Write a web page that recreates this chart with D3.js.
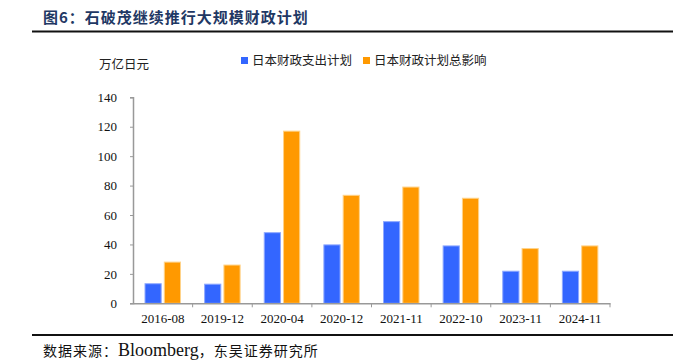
<!DOCTYPE html>
<html>
<head>
<meta charset="utf-8">
<script src="https://cdn.jsdelivr.net/npm/d3@7"></script>
<style>
  body { margin: 0; background: #fff; }
  svg { display: block; }
</style>
</head>
<body>
<div id="chart"></div>
<script>
// data
var categories = ["2016-08", "2019-12", "2020-04", "2020-12", "2021-11", "2022-10", "2023-11", "2024-11"];
var seriesNames = ["日本财政支出计划", "日本财政计划总影响"];
var spending = [13.3, 13, 48, 39.7, 55.5, 39, 21.8, 21.8];
var totalImpact = [28, 26, 117, 73.4, 79, 71.4, 37.2, 39];
var yTicks = [0, 20, 40, 60, 80, 100, 120, 140];

var width = 691, height = 364;
var cjk = "'Noto Sans CJK SC', sans-serif";
var serif = "'Liberation Serif', 'Times New Roman', serif";
var colors = ["#3366ff", "#ff9900"];
var strokes = ["#8fa9ff", "#ffd38a"];

var svg = d3.select("#chart").append("svg")
    .attr("width", width)
    .attr("height", height);

// title and rules
svg.append("text")
    .attr("x", 43)
    .attr("y", 23)
    .attr("font-family", cjk)
    .attr("font-size", 15)
    .attr("letter-spacing", 1)
    .attr("font-weight", "bold")
    .attr("fill", "#1f3864")
    .text("图6：石破茂继续推行大规模财政计划");

svg.append("line")
    .attr("x1", 32).attr("x2", 673)
    .attr("y1", 31.5).attr("y2", 31.5)
    .attr("stroke", "#111").attr("stroke-width", 2);

svg.append("line")
    .attr("x1", 32).attr("x2", 673)
    .attr("y1", 335).attr("y2", 335)
    .attr("stroke", "#111").attr("stroke-width", 2);

var src = svg.append("text")
    .attr("x", 43)
    .attr("y", 356)
    .attr("font-family", cjk)
    .attr("font-size", 14)
    .attr("letter-spacing", 1)
    .attr("fill", "#111");
src.append("tspan").text("数据来源：");
src.append("tspan")
    .attr("font-family", serif)
    .attr("font-size", 18)
    .attr("letter-spacing", 0)
    .text("Bloomberg");
src.append("tspan").text("，东吴证券研究所");

// plot area
var plotLeft = 133, plotRight = 610, plotTop = 97.3, plotBottom = 303.3;

var x0 = d3.scaleBand()
    .domain(categories)
    .range([plotLeft, plotRight])
    .paddingInner(0)
    .paddingOuter(0);

var x1 = d3.scaleBand()
    .domain([0, 1])
    .range([12, 47.5])
    .paddingInner(0.16);

var y = d3.scaleLinear()
    .domain([0, 140])
    .range([plotBottom, plotTop]);

// unit label
svg.append("text")
    .attr("x", 99)
    .attr("y", 69)
    .attr("font-family", cjk)
    .attr("font-size", 12.5)
    .attr("fill", "#222")
    .text("万亿日元");

// legend
var legend = svg.append("g");
var legendX = [241, 363];
seriesNames.forEach(function (name, i) {
    legend.append("rect")
        .attr("x", legendX[i])
        .attr("y", 57)
        .attr("width", 7)
        .attr("height", 7)
        .attr("fill", colors[i]);
    legend.append("text")
        .attr("x", legendX[i] + 11)
        .attr("y", 65)
        .attr("font-family", cjk)
        .attr("font-size", 12.5)
        .attr("fill", "#222")
        .text(name);
});

// bars
var rows = categories.map(function (c, i) {
    return { cat: c, values: [spending[i], totalImpact[i]] };
});

var groups = svg.append("g")
    .selectAll("g")
    .data(rows)
    .enter().append("g")
    .attr("transform", function (d) { return "translate(" + x0(d.cat) + ",0)"; });

groups.selectAll("rect")
    .data(function (d) { return d.values.map(function (v, k) { return { k: k, v: v }; }); })
    .enter().append("rect")
    .attr("x", function (d) { return x1(d.k); })
    .attr("y", function (d) { return y(d.v); })
    .attr("width", x1.bandwidth())
    .attr("height", function (d) { return plotBottom - y(d.v); })
    .attr("fill", function (d) { return colors[d.k]; })
    .attr("stroke", function (d) { return strokes[d.k]; })
    .attr("stroke-width", 1);

// y axis
var yAxis = d3.axisLeft(y)
    .tickValues(yTicks)
    .tickSize(3)
    .tickPadding(13);

var gy = svg.append("g")
    .attr("transform", "translate(" + plotLeft + ",0)")
    .call(yAxis);
gy.select(".domain").attr("stroke", "#999").attr("stroke-width", 1.5);
gy.selectAll(".tick line").attr("stroke", "#999");
gy.selectAll("text")
    .attr("font-family", serif)
    .attr("font-size", 13)
    .attr("fill", "#111");

// x axis
var xAxis = d3.axisBottom(x0)
    .tickSize(0)
    .tickPadding(10);

var gx = svg.append("g")
    .attr("transform", "translate(0," + plotBottom + ")")
    .call(xAxis);
gx.select(".domain").attr("stroke", "#999").attr("stroke-width", 1.5);
gx.selectAll("text")
    .attr("font-family", serif)
    .attr("font-size", 13)
    .attr("fill", "#111");

// separators between categories
gx.selectAll(".sep")
    .data(categories)
    .enter().append("line")
    .attr("class", "sep")
    .attr("x1", function (d) { return x0(d) + x0.bandwidth(); })
    .attr("x2", function (d) { return x0(d) + x0.bandwidth(); })
    .attr("y1", 0)
    .attr("y2", 4)
    .attr("stroke", "#999");
</script>
</body>
</html>
